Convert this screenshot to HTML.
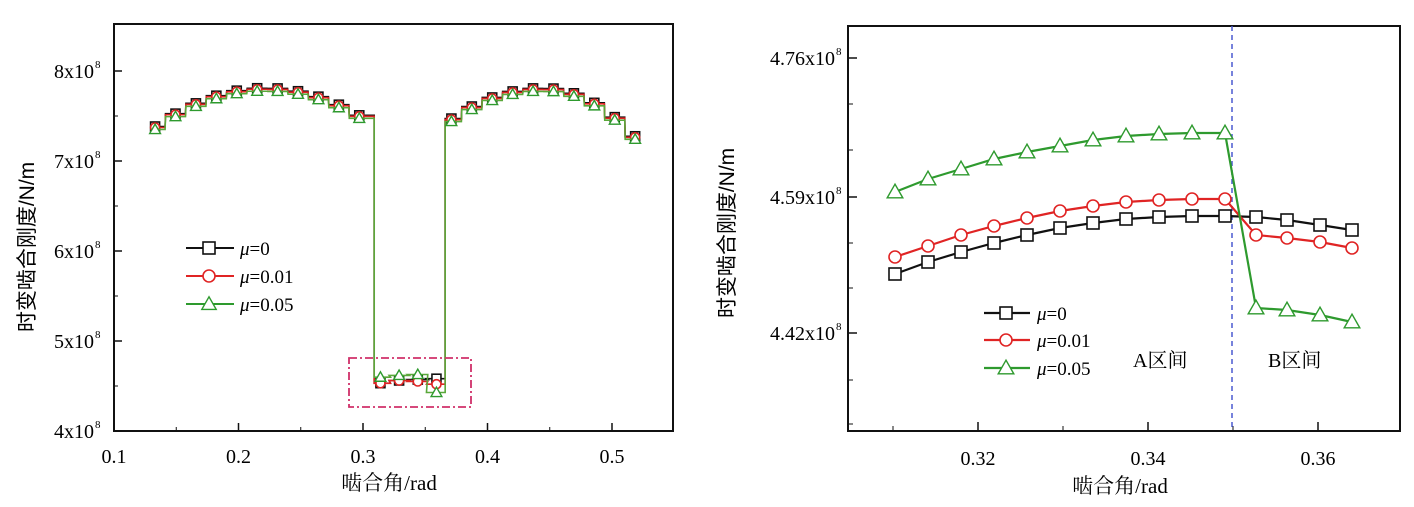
<!DOCTYPE html>
<html><head><meta charset="utf-8"><style>
html,body{margin:0;padding:0;background:#fff;}
svg{display:block;font-family:"Liberation Serif","Noto Serif CJK SC",serif;}
</style></head><body>
<svg id="s" width="1414" height="507" viewBox="0 0 1414 507" xmlns="http://www.w3.org/2000/svg"></svg>
<script>
const S=document.getElementById('s');let h='';
const C={k:'#111',r:'#e02424',g:'#2e9a2e'};
function mk(t,x,y,c,s){
 if(t=='k')return `<rect x="${x-s/2}" y="${y-s/2}" width="${s}" height="${s}" fill="#fff" stroke="${c}" stroke-width="1.6"/>`;
 if(t=='r')return `<circle cx="${x}" cy="${y}" r="${s/2}" fill="#fff" stroke="${c}" stroke-width="1.6"/>`;
 return `<polygon points="${x},${y-s*0.6} ${x-s*0.6},${y+s*0.45} ${x+s*0.6},${y+s*0.45}" fill="#fff" stroke="${c}" stroke-width="1.4"/>`;
}
// ---------- LEFT PLOT ----------
const LX=v=>114+(v-0.1)*1245, LY=v=>431-(v-4)*90;
h+=`<rect x="114" y="24" width="559" height="407" fill="none" stroke="#111" stroke-width="2"/>`;
[0.1,0.2,0.3,0.4,0.5].forEach(v=>{let x=LX(v);h+=`<line x1="${x}" y1="431" x2="${x}" y2="423" stroke="#111" stroke-width="1.5"/><text x="${x}" y="463" font-size="20" text-anchor="middle">${v}</text>`;});
[0.15,0.25,0.35,0.45].forEach(v=>{let x=LX(v);h+=`<line x1="${x}" y1="431" x2="${x}" y2="427" stroke="#111"/>`;});
[4,5,6,7,8].forEach(v=>{let y=LY(v);h+=`<line x1="114" y1="${y}" x2="122" y2="${y}" stroke="#111" stroke-width="1.5"/><text x="94" y="${y+7}" font-size="20" text-anchor="end">${v}x10</text><text x="95" y="${y-3}" font-size="11">8</text>`;});
[4.5,5.5,6.5,7.5].forEach(v=>{let y=LY(v);h+=`<line x1="114" y1="${y}" x2="118" y2="${y}" stroke="#111"/>`;});
function lv(x){ if(x<0.309){return 7.8-54*(x-0.222)**2;} if(x<0.366){return 4.55;} let c=0.445;return x<c?7.8-62*(x-c)**2:7.8-99*(x-c)**2;}
function leftSeries(t,dy){
 let st=0.0164,pts=[];
 let xs=[];for(let x=0.133;x<0.305;x+=st)xs.push(x);
 let xb=[0.314,0.329,0.344,0.359];
 let xc=[];for(let x=0.371;x<0.52;x+=st)xc.push(x);
 let d='',mks='';
 function seg(arr,val,startX,endX){
  arr.forEach((x,i)=>{let v=val(x,i);let y=LY(v)+dy;let x0=i==0?startX:LX(x)-10;let x1=i==arr.length-1?endX:LX(x)+10;
   d+=(d==''?'M':'L')+x0+','+y+' L'+x1+','+y+' ';mks+=mk(t,LX(x),y,C[t],9);});
 }
 seg(xs,x=>lv(x),LX(0.133),LX(0.309));
 seg(xb,(x,i)=>{let b=t=='g'?[4.62,4.64,4.65,4.45][i]:(t=='r'?[4.53,4.56,4.55,4.52][i]:[4.52,4.55,4.56,4.57][i]);return b;},LX(0.309),LX(0.366));
 seg(xc,x=>lv(x),LX(0.366),LX(0.519));
 return `<path d="${d}" fill="none" stroke="${t=='g'?'#5aa83a':C[t]}" stroke-width="1.6"/>`+mks;
}
h+=leftSeries('k',-1)+leftSeries('r',0)+leftSeries('g',2);
h+=`<rect x="349" y="358" width="122" height="49" fill="none" stroke="#d0306a" stroke-width="1.8" stroke-dasharray="8,3,2,3"/>`;
[['k','μ=0',248],['r','μ=0.01',276],['g','μ=0.05',304]].forEach(([t,s,y])=>{h+=`<line x1="186" y1="${y}" x2="234" y2="${y}" stroke="${C[t]}" stroke-width="2"/>`+mk(t,209,y,C[t],12)+`<text x="240" y="${y+7}" font-size="19"><tspan font-style="italic">μ</tspan>${s.slice(1)}</text>`;});
h+=`<text x="389" y="490" font-size="21" text-anchor="middle">啮合角/rad</text>`;
h+=`<text transform="translate(34,247) rotate(-90)" font-size="21" text-anchor="middle" font-family="Liberation Sans,Noto Sans CJK SC,sans-serif">时变啮合刚度/N/m</text>`;
// ---------- RIGHT PLOT ----------
const RX=v=>978+(v-0.32)*8500, RY=v=>197-(v-4.59)*(139/0.17);
h+=`<rect x="848" y="26" width="552" height="405" fill="none" stroke="#111" stroke-width="2"/>`;
[0.32,0.34,0.36].forEach(v=>{let x=RX(v);h+=`<line x1="${x}" y1="431" x2="${x}" y2="422" stroke="#111" stroke-width="1.5"/><text x="${x}" y="465" font-size="20" text-anchor="middle">${v}</text>`;});
[0.31,0.33,0.35].forEach(v=>{let x=RX(v);h+=`<line x1="${x}" y1="431" x2="${x}" y2="426" stroke="#111"/>`;});
[[4.76,58],[4.59,197],[4.42,333]].forEach(([v,y])=>{h+=`<line x1="848" y1="${y}" x2="857" y2="${y}" stroke="#111" stroke-width="1.5"/><text x="835" y="${y+7}" font-size="20" text-anchor="end">${v}x10</text><text x="836" y="${y-3}" font-size="11">8</text>`;});
[104,150,243,288,380,424].forEach(y=>{h+=`<line x1="848" y1="${y}" x2="853" y2="${y}" stroke="#111"/>`;});
h+=`<line x1="1232" y1="26" x2="1232" y2="431" stroke="#4a5ad0" stroke-width="1.5" stroke-dasharray="5,4"/>`;
const ax=[];for(let i=0;i<11;i++)ax.push(895+i*33);const bx=[1256,1287,1320,1352];
const D={g:[[192,179,169,159,152,146,140,136,134,133,133],[308,310,315,322]],
r:[[257,246,235,226,218,211,206,202,200,199,199],[235,238,242,248]],
k:[[274,262,252,243,235,228,223,219,217,216,216],[217,220,225,230]]};
['k','r','g'].forEach(t=>{let p=ax.map((x,i)=>[x,D[t][0][i]]).concat(bx.map((x,i)=>[x,D[t][1][i]]));
 h+=`<polyline points="${p.map(a=>a.join(',')).join(' ')}" fill="none" stroke="${C[t]}" stroke-width="2.2"/>`;
 p.forEach(a=>h+=mk(t,a[0],a[1],C[t],t=='g'?13:12));});
[['k','=0',313],['r','=0.01',340],['g','=0.05',368]].forEach(([t,s,y])=>{h+=`<line x1="984" y1="${y}" x2="1030" y2="${y}" stroke="${C[t]}" stroke-width="2.2"/>`+mk(t,1006,y,C[t],t=='g'?13:12)+`<text x="1037" y="${y+7}" font-size="19"><tspan font-style="italic">μ</tspan>${s}</text>`;});
h+=`<text x="1133" y="367" font-size="20">A区间</text><text x="1268" y="367" font-size="20">B区间</text>`;
h+=`<text x="1120" y="493" font-size="21" text-anchor="middle">啮合角/rad</text>`;
h+=`<text transform="translate(734,233) rotate(-90)" font-size="21" text-anchor="middle" font-family="Liberation Sans,Noto Sans CJK SC,sans-serif">时变啮合刚度/N/m</text>`;
S.innerHTML=h;
</script>
</body></html>
